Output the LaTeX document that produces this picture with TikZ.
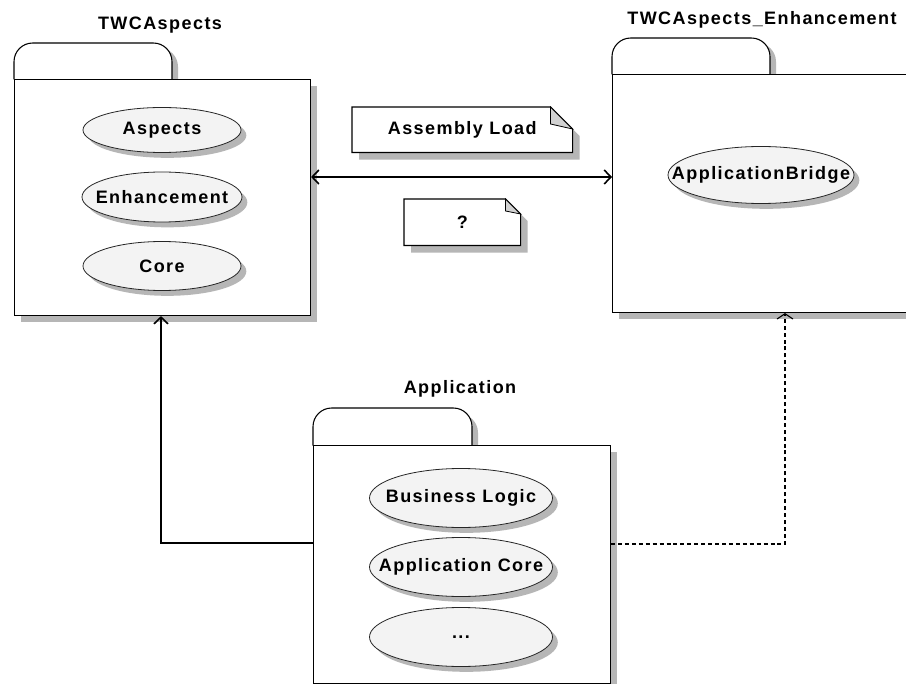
\documentclass[tikz,border=0pt]{standalone}
\usepackage{fontspec}
\newfontfamily\lbl{Liberation Sans}[LetterSpace=8]
\usetikzlibrary{arrows.meta,shapes.geometric,shadows,calc}
\definecolor{shgrey}{RGB}{182,182,182}
\definecolor{elfill}{RGB}{243,243,243}
\newcommand\uctext[1]{\makebox[0pt]{#1}}
\tikzset{
  lbltext/.style={font=\lbl\bfseries\fontsize{13.5}{16}\selectfont, text=black},
  pkgbox/.style={draw=black, line width=0.8pt, fill=white, rectangle, anchor=north west, inner sep=0pt},
  usecase/.style={ellipse, draw=black!85, line width=0.6pt, fill=elfill, lbltext, inner sep=0pt,
    drop shadow={shadow xshift=4pt, shadow yshift=-4pt, fill=shgrey, opacity=1}},
  tabshape/.style={draw=black, line width=0.8pt, fill=white, rounded corners=14pt},
  tabshadow/.style={fill=shgrey, rounded corners=14pt},
  solidconn/.style={line width=1.5pt, black, arrows={Straight Barb[length=5pt,width=10.5pt,line width=1.2pt]-Straight Barb[length=5pt,width=10.5pt,line width=1.2pt]}},
  depconn/.style={line width=0.8pt, black, dash pattern=on 3pt off 2.2pt, -{Straight Barb[length=4pt,width=12pt,line width=0.8pt]}},
  notebox/.style={rectangle, lbltext, inner sep=0pt, anchor=north west},
}
\begin{document}
\begin{tikzpicture}[x=0.75pt,y=-0.75pt]
\useasboundingbox (0,0) rectangle (906,684);
\clip (0,0) rectangle (906,684);
\fill[white] (0,0) rectangle (906,684);

% ---------- TWCAspects ----------
\fill[shgrey] (21,86) rectangle (317,322);
\fill[tabshadow] (19,85) -- (19,48) -- (178,48) -- (178,85);
\draw[tabshape] (14,79.5) -- (14,43) -- (172,43) -- (172,79.5);
\node[pkgbox, minimum width={296*0.75pt}, minimum height={236*0.75pt}] (twc) at (14,79) {};
\node[lbltext] (twclbl) at (160,25) {TWCAspects};
\node[usecase, minimum width={158*0.75pt}, minimum height={45*0.75pt}] (asp) at (162,130) {\uctext{Aspects}};
\node[usecase, minimum width={160*0.75pt}, minimum height={50*0.75pt}] (enhuc) at (162,197) {\uctext{Enhancement}};
\node[usecase, minimum width={158*0.75pt}, minimum height={49*0.75pt}] (core) at (162,266) {\uctext{Core}};

% ---------- TWCAspects_Enhancement ----------
\fill[shgrey] (619,81) rectangle (920,319);
\fill[tabshadow] (617,80) -- (617,43) -- (776,43) -- (776,80);
\draw[tabshape] (612,74.5) -- (612,38) -- (770,38) -- (770,74.5);
\node[pkgbox, minimum width={300*0.75pt}, minimum height={238*0.75pt}] (enh) at (612,74) {};
\node[lbltext] (enhlbl) at (762,20) {TWCAspects\_Enhancement};
\node[usecase, minimum width={186*0.75pt}, minimum height={57*0.75pt}] (bridge) at (761,175) {\uctext{ApplicationBridge}};

% ---------- Application ----------
\fill[shgrey] (320,452) rectangle (617,690);
\fill[tabshadow] (318,451) -- (318,414) -- (478,414) -- (478,451);
\draw[tabshape] (313,445.5) -- (313,408) -- (472,408) -- (472,445.5);
\node[pkgbox, minimum width={297*0.75pt}, minimum height={238*0.75pt}] (app) at (313,445) {};
\node[lbltext] (applbl) at (460,389) {Application};
\node[usecase, minimum width={183*0.75pt}, minimum height={59*0.75pt}] (bl) at (461,498) {\uctext{Business Logic}};
\node[usecase, minimum width={183*0.75pt}, minimum height={59*0.75pt}] (ac) at (461,567) {\uctext{Application Core}};
\node[usecase, minimum width={183*0.75pt}, minimum height={59*0.75pt}] (etc) at (461,637) {\uctext{...}};

% ---------- Notes ----------
\node[notebox, minimum width={220*0.75pt}, minimum height={45*0.75pt}] (al) at (352,107) {};
\fill[shgrey] ($(al.north west)+(7,7)$) -- ($(al.north east)+(-22+7,7)$) -- ($(al.north east)+(7,22+7)$) -- ($(al.south east)+(7,7)$) -- ($(al.south west)+(7,7)$) -- cycle;
\draw[line width=0.8pt, fill=white] (al.north west) -- ($(al.north east)+(-22,0)$) -- ($(al.north east)+(0,22)$) -- (al.south east) -- (al.south west) -- cycle;
\draw[line width=0.6pt, fill=black!18] ($(al.north east)+(-22,0)$) -- ($(al.north east)+(-22,17)$) -- ($(al.north east)+(0,22)$) -- cycle;
\node[lbltext] (altext) at (al.center) {Assembly Load};

\node[notebox, minimum width={116*0.75pt}, minimum height={46*0.75pt}] (q) at (404,199) {};
\fill[shgrey] ($(q.north west)+(7,7)$) -- ($(q.north east)+(-15+7,7)$) -- ($(q.north east)+(7,15+7)$) -- ($(q.south east)+(7,7)$) -- ($(q.south west)+(7,7)$) -- cycle;
\draw[line width=0.8pt, fill=white] (q.north west) -- ($(q.north east)+(-15,0)$) -- ($(q.north east)+(0,15)$) -- (q.south east) -- (q.south west) -- cycle;
\draw[line width=0.6pt, fill=black!18] ($(q.north east)+(-15,0)$) -- ($(q.north east)+(-15,12)$) -- ($(q.north east)+(0,15)$) -- cycle;
\node[lbltext] (qtext) at (q.center) {?};

% ---------- Connectors ----------
\coordinate (mid) at (461,177);
\coordinate (c1) at (161,543);
\coordinate (c2) at (785,544);
\draw[solidconn] (twc.east |- mid) -- (enh.west |- mid);
\draw[line width=1.5pt, -{Straight Barb[length=5pt,width=10.5pt,line width=1.2pt]}] (app.west |- c1) -| (twc.south -| c1);
\draw[depconn] (app.east |- c2) -| (enh.south -| c2);
\end{tikzpicture}
\end{document}
